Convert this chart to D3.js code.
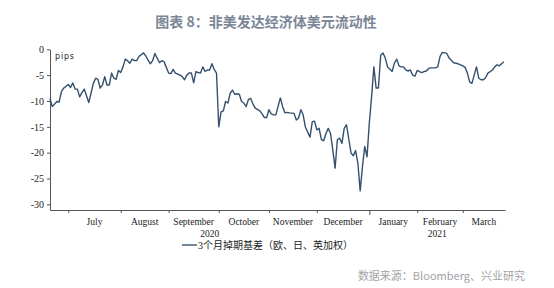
<!DOCTYPE html>
<html>
<head>
<meta charset="utf-8">
<script src="https://cdn.jsdelivr.net/npm/d3@7"></script>
<style>
  body { margin: 0; background: #fff; }
  svg { display: block; }
</style>
</head>
<body>
<div id="chart"></div>
<script>
// business days counted from 2020-06-19 (day 0), weekends skipped
const startDate = new Date(2020, 5, 19);
const endDate = new Date(2021, 2, 25);

const tradingDay = [
  0, 1, 3, 4, 5, 6, 7, 8, 9, 10, 11, 12, 13, 14, 15, 16, 17, 18, 19, 20,
  21, 22, 23, 24, 25, 26, 27, 28, 29, 30, 31, 32, 33, 34, 35, 36, 37, 38, 39, 41,
  42, 43, 44, 45, 46, 47, 48, 49, 50, 51, 52, 53, 54, 55, 56, 57, 58, 59, 60, 61,
  62, 63, 64, 65, 66, 67, 68, 69, 70, 71, 72, 73,
  74, 75, 76, 77, 78, 79, 80, 81, 82, 83, 84, 85, 86, 87, 88, 89, 90, 92, 93, 94,
  95, 96, 97, 98, 99, 101, 102, 103, 104, 105, 107, 108, 109, 110, 111, 112, 114, 115, 116, 117,
  118, 119, 120, 121, 122, 123, 124, 125, 126, 127, 128, 129, 130, 132, 133, 134, 135, 136, 137, 138,
  139, 140, 141, 142, 143, 144, 145, 146, 147, 148, 150, 151, 152, 153, 154, 155, 156, 157, 158, 159,
  160, 161, 162, 163, 164, 165, 166, 167, 169, 170, 171, 172, 173, 174, 175, 177, 178, 179, 181, 182,
  183, 184, 185, 186, 187, 188, 189, 190, 191, 192, 194, 195, 196, 197, 198, 199
];

const basis = [
  -9.5, -11.1, -10.1, -10.2, -8.2, -7.5, -7.2, -6.8, -7.4, -6.5, -7.7, -7.7, -9.2, -8.4, -7.7, -9.0, -10.3, -8.5, -6.6, -5.6,
  -5.8, -7.5, -6.9, -5.3, -6.9, -6.9, -4.6, -5.6, -5.8, -4.1, -4.5, -3.4, -1.9, -2.2, -2.7, -1.9, -2.2, -2.2, -1.4, -0.7,
  -1.3, -2.1, -2.8, -2.2, -0.8, -1.7, -2.6, -2.2, -2.4, -3.5, -4.6, -4.7, -3.9, -4.6, -4.8, -5.0, -5.3, -5.9, -5.0, -4.6,
  -4.6, -6.5, -4.3, -4.5, -4.6, -3.4, -4.3, -4.0, -4.0, -2.8, -3.9, -4.6,
  -15.0, -12.1, -11.9, -10.1, -10.4, -8.5, -7.9, -8.7, -8.6, -8.7, -10.1, -10.4, -11.1, -9.7, -9.5, -10.6, -11.4, -11.9, -12.5, -13.2,
  -13.2, -11.7, -12.5, -12.7, -12.7, -9.4, -11.1, -12.3, -12.2, -12.3, -12.4, -13.7, -13.3, -11.7, -12.7, -15.1, -17.0, -14.0, -13.9, -15.6,
  -15.3, -17.5, -17.7, -16.3, -15.3, -16.3, -19.5, -23.0, -17.5, -17.2, -18.2, -15.3, -14.6, -20.1, -20.6, -19.6, -22.1, -27.4, -22.7, -18.8,
  -20.8, -14.3, -9.2, -3.4, -7.5, -7.5, -1.1, -0.7, -1.7, -3.4, -4.3, -2.7, -1.9, -3.2, -3.4, -3.4, -4.0, -4.2, -4.0, -5.0,
  -5.2, -4.1, -4.3, -4.5, -4.3, -4.2, -3.7, -3.6, -3.6, -3.4, -1.4, -0.6, -0.7, -0.8, -1.7, -2.6, -2.7, -2.8, -3.2, -3.5,
  -4.6, -6.3, -6.6, -5.0, -3.4, -5.6, -5.9, -5.9, -5.5, -4.6, -4.0, -3.4, -3.0, -3.2, -2.8, -2.4
];

const monthNames = ["July", "August", "September", "October", "November", "December", "January", "February", "March"];
const yearNames = ["2020", "2021"];
const yTicks = [0, -5, -10, -15, -20, -25, -30];
const seriesName = "3个月掉期基差（欧、日、英加权）";

const width = 554, height = 288;
const lineColor = "#35506d";
const axisColor = "#555";

// list of business days so month starts can be found on the same index axis
const days = [];
for (let d = new Date(startDate); d <= endDate; d.setDate(d.getDate() + 1)) {
  if (d.getDay() !== 0 && d.getDay() !== 6) days.push(new Date(d));
}
const monthStarts = [];
days.forEach((d, i) => {
  if (i > 0 && d.getMonth() !== days[i - 1].getMonth()) monthStarts.push(i);
});
const lastDay = days.length - 0.5;

const svg = d3.select("#chart").append("svg")
  .attr("width", width)
  .attr("height", height);

const x = d3.scaleLinear().domain([0, lastDay]).range([50, 505]);
const y = d3.scaleLinear().domain([-31.1, 0]).range([210, 49.3]);

// title
svg.append("text")
  .attr("x", 266).attr("y", 27)
  .attr("text-anchor", "middle")
  .style("font-family", "'Noto Sans CJK SC', sans-serif")
  .style("font-size", "14px")
  .style("font-weight", "bold")
  .style("fill", "#7b8697")
  .text("图表 8：非美发达经济体美元流动性");

// y axis
const yAxis = svg.append("g")
  .attr("transform", "translate(50,0)")
  .call(d3.axisLeft(y).tickValues(yTicks).tickSize(3).tickSizeOuter(0).tickFormat(d => String(d)));
yAxis.selectAll("path, line").attr("stroke", axisColor);
yAxis.selectAll("text")
  .style("font-family", "'Liberation Serif', serif")
  .style("font-size", "10px")
  .style("fill", "#222");

svg.append("text")
  .attr("x", 55).attr("y", 59)
  .style("font-family", "'DejaVu Sans', sans-serif")
  .style("font-size", "8px")
  .style("letter-spacing", "0.8px")
  .style("fill", "#222")
  .text("pips");

// x axis, ticks at month starts
const xAxis = svg.append("g")
  .attr("transform", "translate(0,210)")
  .call(d3.axisBottom(x).tickValues(monthStarts).tickSize(3).tickSizeOuter(0).tickFormat(""));
xAxis.selectAll("path, line").attr("stroke", axisColor);
// year boundary tick is a bit longer
const yearStart = monthStarts[6];
xAxis.selectAll(".tick line").attr("y2", d => d === yearStart ? 5 : 3);

const bounds = monthStarts.concat([lastDay]);
svg.append("g").selectAll("text")
  .data(monthNames)
  .join("text")
  .attr("x", (m, i) => (x(bounds[i]) + x(bounds[i + 1])) / 2)
  .attr("y", 225)
  .attr("text-anchor", "middle")
  .style("font-family", "'Liberation Serif', serif")
  .style("font-size", "9.5px")
  .style("fill", "#222")
  .text(m => m);

const yearSpans = [[0, yearStart], [yearStart, lastDay]];
svg.append("g").selectAll("text")
  .data(yearNames)
  .join("text")
  .attr("x", (t, i) => (x(yearSpans[i][0]) + x(yearSpans[i][1])) / 2)
  .attr("y", 237)
  .attr("text-anchor", "middle")
  .style("font-family", "'Liberation Serif', serif")
  .style("font-size", "9.5px")
  .style("fill", "#222")
  .text(t => t);

// series
const points = tradingDay.map((d, i) => [d, basis[i]]);
const line = d3.line().x(p => x(p[0])).y(p => y(p[1]));
svg.append("path")
  .datum(points)
  .attr("fill", "none")
  .attr("stroke", lineColor)
  .attr("stroke-width", 1.4)
  .attr("stroke-linejoin", "round")
  .attr("d", line);

// legend
svg.append("line")
  .attr("x1", 182).attr("x2", 197)
  .attr("y1", 245).attr("y2", 245)
  .attr("stroke", lineColor)
  .attr("stroke-width", 1.4);
svg.append("text")
  .attr("x", 198).attr("y", 249)
  .style("font-family", "'Liberation Serif', 'Noto Sans CJK SC', serif")
  .style("font-size", "10px")
  .style("fill", "#222")
  .text(seriesName);

// source
svg.append("text")
  .attr("x", 525).attr("y", 280)
  .attr("text-anchor", "end")
  .style("font-family", "'Noto Sans CJK SC', sans-serif")
  .style("font-size", "11px")
  .style("fill", "#a3a3a3")
  .text("数据来源：Bloomberg、兴业研究");
</script>
</body>
</html>
